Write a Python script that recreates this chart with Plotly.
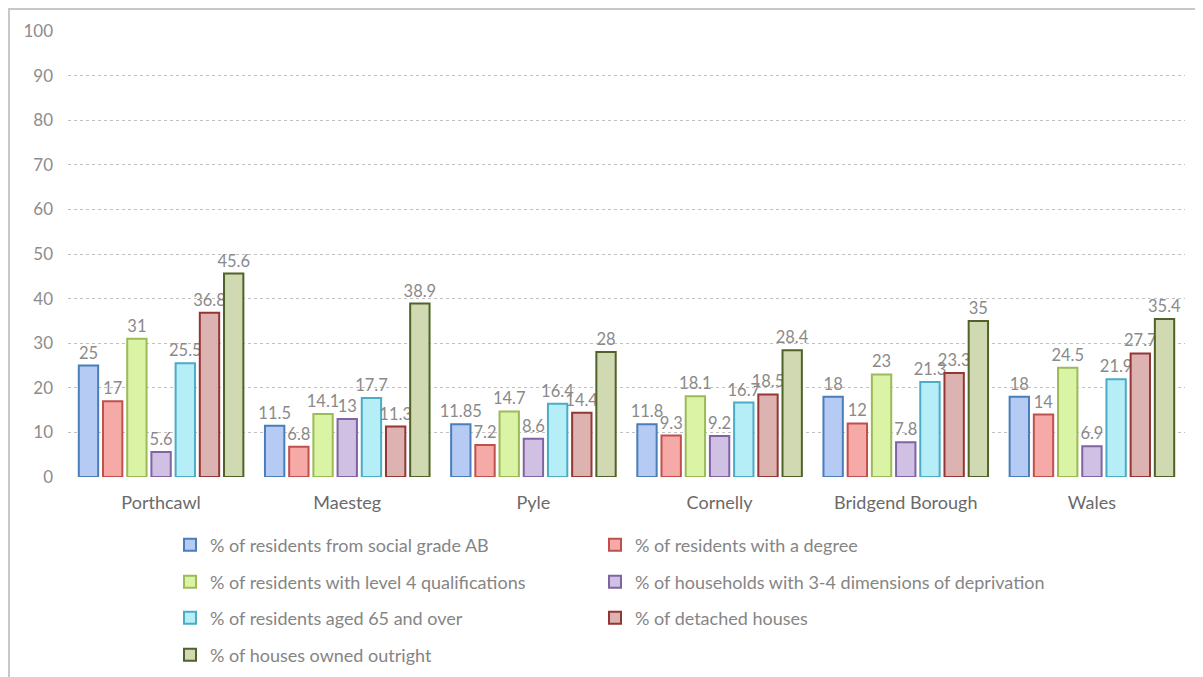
import plotly.graph_objects as go

categories = ["Porthcawl", "Maesteg", "Pyle", "Cornelly", "Bridgend Borough", "Wales"]
series_names = [
    "% of residents from social grade AB",
    "% of residents with a degree",
    "% of residents with level 4 qualifications",
    "% of households with 3-4 dimensions of deprivation",
    "% of residents aged 65 and over",
    "% of detached houses",
    "% of houses owned outright",
]
social_grade_ab = [25, 11.5, 11.85, 11.8, 18, 18]
with_degree = [17, 6.8, 7.2, 9.3, 12, 14]
level4_quals = [31, 14.1, 14.7, 18.1, 23, 24.5]
deprivation = [5.6, 13, 8.6, 9.2, 7.8, 6.9]
aged_65_over = [25.5, 17.7, 16.4, 16.7, 21.3, 21.9]
detached = [36.8, 11.3, 14.4, 18.5, 23.3, 27.7]
owned_outright = [45.6, 38.9, 28, 28.4, 35, 35.4]
y_ticks = [0, 10, 20, 30, 40, 50, 60, 70, 80, 90, 100]

series_values = [social_grade_ab, with_degree, level4_quals, deprivation,
                 aged_65_over, detached, owned_outright]
fills = ["#b5cbf3", "#f6aaa8", "#dbf3a4", "#cfc0e4", "#b6eef8", "#dcb3b1", "#d0d9b2"]
borders = ["#4a7ebb", "#c0504d", "#9bbb59", "#8064a2", "#4bacc6", "#943634", "#4f6228"]

W, H = 1195, 669
ML, MR, MT, MB = 60, 18, 23, 200
PW, PH = W - ML - MR, H - MT - MB

def px_x(px):
    return (px - ML) / PW

def px_y(py):
    return (H - MB - py) / PH

# legend layout (figure pixel coords): two columns, four rows
col_x = [px_x(162), px_x(587)]
row_y = [px_y(537), px_y(574), px_y(610), px_y(647)]
legend_pos = [(0, 0), (1, 0), (0, 1), (1, 1), (0, 2), (1, 2), (0, 3)]

fig = go.Figure()
layout_legends = {}
for i, (name, vals, fc, bc) in enumerate(zip(series_names, series_values, fills, borders)):
    lid = "legend" if i == 0 else f"legend{i + 1}"
    c, r = legend_pos[i]
    layout_legends[lid] = dict(
        x=col_x[c], y=row_y[r], xanchor="left", yanchor="middle",
        font=dict(family="Lato", size=18, color="#858585"),
        itemwidth=30, bgcolor="rgba(0,0,0,0)", visible=True,
    )
    fig.add_trace(go.Bar(
        x=categories, y=vals, name=name,
        marker=dict(color=fc, line=dict(color=bc, width=2)),
        text=[f"{v:g}" for v in vals], textposition="outside",
        textfont=dict(color="#8a8a8a", size=16.5, family="Lato"),
        constraintext="none", cliponaxis=False,
        legend=lid, showlegend=True,
    ))

fig.update_layout(
    width=W, height=H,
    showlegend=True,
    margin=dict(l=ML, r=MR, t=MT, b=MB, autoexpand=False),
    paper_bgcolor="white", plot_bgcolor="white",
    barmode="group", bargap=0.09, bargroupgap=0.2,
    font=dict(family="Lato", color="#808080"),
    xaxis=dict(showgrid=False, showline=False, ticks="", automargin=False,
               tickfont=dict(family="Lato", size=18, color="#6a6a6a"),
               ticklabelstandoff=13),
    yaxis=dict(range=[0, 100], tickvals=y_ticks, showgrid=True,
               gridcolor="#c0c0c0", griddash="dot", gridwidth=1,
               zeroline=False, showline=False, ticks="", automargin=False,
               tickfont=dict(family="Lato", size=17, color="#8c8c8c"),
               ticklabelstandoff=14),
    shapes=[
        dict(type="line", xref="paper", yref="paper", x0=px_x(0), x1=1.1, y0=px_y(1), y1=px_y(1),
             line=dict(color="#c8c8c8", width=2)),
        dict(type="line", xref="paper", yref="paper", x0=px_x(1), x1=px_x(1), y0=px_y(0), y1=-0.6,
             line=dict(color="#c8c8c8", width=2)),
    ],
    **layout_legends,
)
fig.write_html("out.html")
